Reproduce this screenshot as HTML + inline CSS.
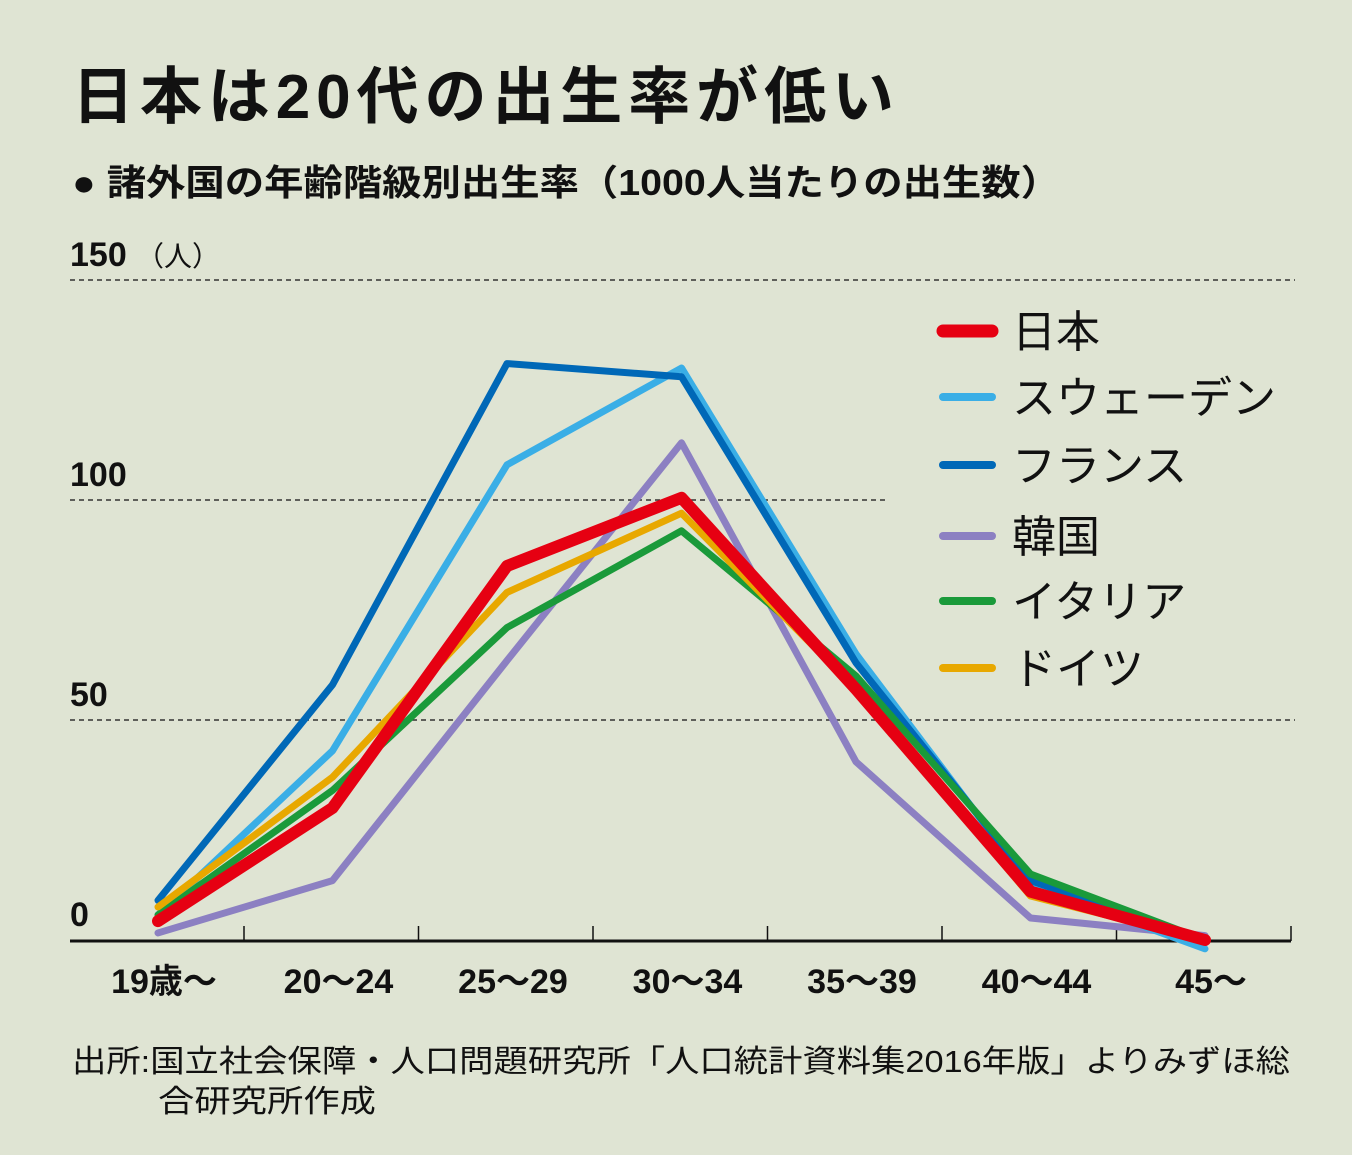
<!DOCTYPE html>
<html><head><meta charset="utf-8">
<style>
html,body{margin:0;padding:0;background:#dfe4d3;}
svg{display:block;font-family:"Liberation Sans","Noto Sans CJK JP",sans-serif;}
</style></head>
<body>
<svg id="chart" width="1352" height="1155" viewBox="0 0 1352 1155">
<rect width="1352" height="1155" fill="#dfe4d3"/>
<text x="72" y="118" font-size="62" font-weight="bold" fill="#111" textLength="822" lengthAdjust="spacing">日本は20代の出生率が低い</text>
<text x="72" y="195" font-size="36" font-weight="bold" fill="#111" textLength="988" lengthAdjust="spacingAndGlyphs">● 諸外国の年齢階級別出生率（1000人当たりの出生数）</text>
<g id="grid"></g>
<g id="lines"></g>
<g id="xlabels"></g>
<g id="legend"></g>
<text x="72" y="1072" font-size="31" fill="#111" textLength="1218" lengthAdjust="spacingAndGlyphs">出所:国立社会保障・人口問題研究所「人口統計資料集2016年版」よりみずほ総</text>
<text x="158" y="1112" font-size="31" fill="#111" textLength="218" lengthAdjust="spacingAndGlyphs">合研究所作成</text>
</svg>
<script>
const categories=["19歳～","20～24","25～29","30～34","35～39","40～44","45～"];
const seriesNames=["日本","スウェーデン","フランス","韓国","イタリア","ドイツ"];
const japan=[4.3,30,85,100.5,57,11,0];
const sweden=[5.7,43,108,130,65,12.5,-2];
const france=[9,58,131,128,63,13.5,0];
const korea=[1.6,13.5,63.5,113,40.5,5,1];
const italy=[5.7,34,71,93,60,15,0];
const germany=[7.5,37,79,97,57,10,0];
const yTicks=[0,50,100,150];
const NS="http://www.w3.org/2000/svg";
const colors=["#e60012","#3aaee6","#0068b7","#8c80c2","#1a9a3a","#e8a800"];
const order=[3,1,2,4,5,0];
const allSeries=[japan,sweden,france,korea,italy,germany];
const y=v=>940-v*4.4;
const x=i=>158+i*174.5;
function mk(tag,attrs,parent){const e=document.createElementNS(NS,tag);for(const k in attrs)e.setAttribute(k,attrs[k]);parent.appendChild(e);return e;}
const grid=document.getElementById('grid');
yTicks.forEach(t=>{
  if(t>0){
    const l=mk('line',{x1:70,x2:t===100?888:1295,y1:y(t),y2:y(t),stroke:'#333','stroke-width':1.5,'stroke-dasharray':'5,4'},grid);
    
    
  }
  const tx=mk('text',{x:70,y:y(t)-14,'font-size':34,'font-weight':'bold',fill:'#111'},grid);
  tx.textContent=t;
  
  
});
const unit=mk('text',{x:136,y:y(150)-14,'font-size':28,fill:'#111'},grid);
unit.textContent='（人）';


const axis=mk('line',{x1:70,x2:1291,y1:941,y2:941,stroke:'#111','stroke-width':3},grid);


for(let i=0;i<categories.length;i++){
  const tk=mk('line',{x1:x(i)+86,x2:x(i)+86,y1:941,y2:926,stroke:'#111','stroke-width':1.5},grid);
  
  
}
const lines=document.getElementById('lines');
order.forEach(s=>{
  const d=allSeries[s].map((v,i)=>(i?'L':'M')+x(i)+','+y(v)).join(' ');
  const p=mk('path',{d:d,fill:'none',stroke:colors[s],'stroke-width':s===0?12:7,'stroke-linejoin':'round','stroke-linecap':'round'},lines);
  
  
});
const xl=document.getElementById('xlabels');
categories.forEach((c,i)=>{
  const t=mk('text',{x:x(i)+6,y:993,'font-size':34,'font-weight':'bold','text-anchor':'middle',fill:'#111'},xl);
  t.textContent=c;
  
  
});
const lg=document.getElementById('legend');
const ly=[331,397,465,536,601,668];
seriesNames.forEach((n,i)=>{
  const l=mk('line',{x1:943,x2:992,y1:ly[i],y2:ly[i],stroke:colors[i],'stroke-width':i===0?13:8,'stroke-linecap':'round'},lg);
  
  
  const t=mk('text',{x:1012,y:ly[i]+16,'font-size':44,fill:'#111'},lg);
  t.textContent=n;
  
  
});
</script>
</body></html>
